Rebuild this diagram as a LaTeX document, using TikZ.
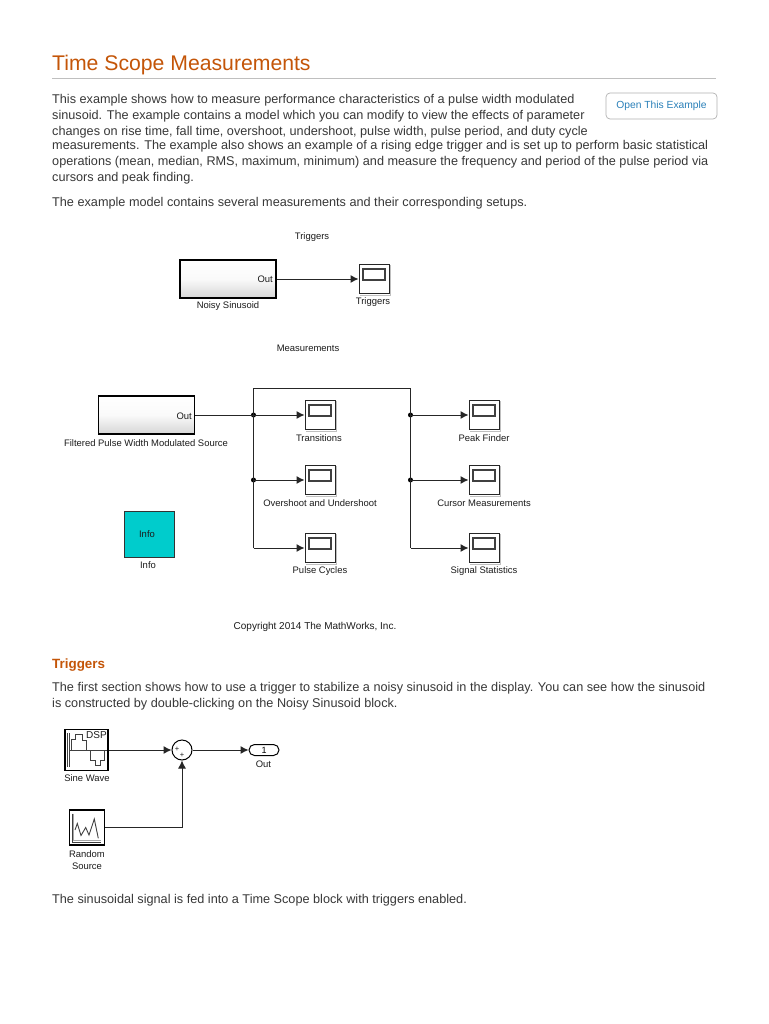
\documentclass[tikz,border=0pt]{standalone}
\usepackage{fontspec}
\setmainfont{Liberation Sans}
\usetikzlibrary{arrows.meta,calc,positioning,shapes.misc}
\definecolor{ttl}{HTML}{C45508}
\definecolor{body}{HTML}{383838}
\definecolor{lbl}{HTML}{1C1C1C}
\definecolor{btn}{HTML}{2A80B9}
\definecolor{infoc}{HTML}{00CCCC}
\tikzset{
  x=1pt,y=-1pt,
  para/.style={anchor=base west,inner sep=0pt,text=body,font=\fontsize{12.68}{14}\selectfont},
  lab/.style={inner sep=0pt,text=lbl,font=\fontsize{9.45}{11}\selectfont},
  gblock/.style={draw=black,line width=1.8pt,top color=white,bottom color=black!16,middle color=black!2,minimum width=96pt,minimum height=38pt,inner sep=0pt},
  scopebox/.style={draw=black!85,line width=1pt,fill=white,minimum width=30pt,minimum height=29pt,inner sep=0pt},
  wire/.style={draw=black!85,line width=1pt},
  arr/.style={wire,-{Latex[length=8pt,width=8pt]}},
  dotn/.style={circle,fill=black,inner sep=0pt,minimum size=5pt},
  icon/.style={draw=black!75,line width=0.9pt},
}
\newcommand{\scopeat}[3]{% name, x, y(center)
  \node[scopebox] (#1) at (#2,#3) {};
  \draw[black!25,line width=1pt] ($(#1.north east)+(1.2,1)$) -- ($(#1.south east)+(1.2,1.2)$) -- ($(#1.south west)+(1,1.2)$);
  \draw[black!75,line width=1.1pt,fill=white] ($(#1.center)+(-11,-10)$) rectangle ($(#1.center)+(11,1)$);
}
\begin{document}
\begin{tikzpicture}
\useasboundingbox (0,0) rectangle (768,1024);
\fill[white] (0,0) rectangle (768,1024);
% heading
\node[anchor=base west,inner sep=0pt,text=ttl,font=\fontsize{21.2}{24}\selectfont] (title) at (52,71) {Time Scope Measurements};
\coordinate (ruleL) at (52,78); \coordinate (ruleR) at (716,78);
\draw[black!25,line width=0.6pt] (ruleL) -- (ruleR);
% paragraph
\node[para] (p1) at (52,104) {This example shows how to measure performance characteristics of a pulse width modulated};
\node[para] (p2) at (52,120) {sinusoid. The example contains a model which you can modify to view the effects of parameter};
\node[para] (p3) at (52,136) {changes on rise time, fall time, overshoot, undershoot, pulse width, pulse period, and duty cycle};
\node[para] (p4) at (52,150) {measurements. The example also shows an example of a rising edge trigger and is set up to perform basic statistical};
\node[para] (p5) at (52,166) {operations (mean, median, RMS, maximum, minimum) and measure the frequency and period of the pulse period via};
\node[para] (p6) at (52,182) {cursors and peak finding.};
\node[para] (p7) at (52,207) {The example model contains several measurements and their corresponding setups.};
\node[draw=black!30,rounded corners=4pt,line width=0.7pt,minimum width=111pt,minimum height=26pt,inner sep=0pt,text=btn,font=\fontsize{10.3}{12}\selectfont] (button) at (661.5,106) {Open This Example};
% Triggers model
\node[lab] (tTrig) at (312,237.5) {Triggers};
\node[gblock] (noisy) at (228,279) {};
\node[lab,anchor=east] (noisyOut) at (273,279) {Out};
\node[lab] (noisyL) at (228,306.5) {Noisy Sinusoid};
\scopeat{sTrig}{374}{279}
\node[lab] (sTrigL) at (373,302) {Triggers};
\draw[arr] (noisy.east) -- (sTrig.west);
% Measurements model
\node[lab] (tMeas) at (308,348.5) {Measurements};
\node[gblock] (filt) at (146.5,415) {};
\node[lab,anchor=east] (filtOut) at (192,416) {Out};
\node[lab] (filtL) at (146,443.5) {Filtered Pulse Width Modulated Source};
\scopeat{s1}{320}{415}
\scopeat{s2}{320}{480}
\scopeat{s3}{320}{548}
\scopeat{s4}{484}{415}
\scopeat{s5}{484}{480}
\scopeat{s6}{484}{548}
\node[lab] (s1L) at (319,438.5) {Transitions};
\node[lab] (s2L) at (320,503) {Overshoot and Undershoot};
\node[lab] (s3L) at (320,571) {Pulse Cycles};
\node[lab] (s4L) at (484,438.5) {Peak Finder};
\node[lab] (s5L) at (484,503) {Cursor Measurements};
\node[lab] (s6L) at (484,571) {Signal Statistics};
\node[dotn] (j1) at (253.5,415) {};
\node[dotn] (j2) at (253.5,480) {};
\node[dotn] (j3) at (410.5,415) {};
\node[dotn] (j4) at (410.5,480) {};
\coordinate (c1) at (253.5,548);
\coordinate (c2) at (253.5,388);
\coordinate (c3) at (410.5,388);
\coordinate (c4) at (410.5,548);
\draw[arr] (filt.east) -- (s1.west);
\draw[arr] (j2.center) -- (s2.west);
\draw[arr] (c1) -- (s3.west);
\draw[arr] (j3.center) -- (s4.west);
\draw[arr] (j4.center) -- (s5.west);
\draw[arr] (c4) -- (s6.west);
\draw[wire] (c1) -- (c2) -- (c3) -- (c4);
\node[draw=black!80,line width=0.8pt,fill=infoc,minimum width=50pt,minimum height=46pt,inner sep=0pt] (info) at (149,534) {};
\node[lab] (infoT) at (147,534) {Info};
\node[lab] (infoL) at (148,565) {Info};
\node[lab,font=\fontsize{10}{12}\selectfont] (copy) at (315,627) {Copyright 2014 The MathWorks, Inc.};
% section
\node[anchor=base west,inner sep=0pt,text=ttl,font=\bfseries\fontsize{13.4}{15}\selectfont] (h2) at (52,668.5) {Triggers};
\node[para] (q1) at (52,691) {The first section shows how to use a trigger to stabilize a noisy sinusoid in the display. You can see how the sinusoid};
\node[para] (q2) at (52,707) {is constructed by double-clicking on the Noisy Sinusoid block.};
% second model
\node[draw=black,line width=1.2pt,fill=white,minimum width=43pt,minimum height=41pt,inner sep=0pt] (sine) at (86.5,750) {};
\draw[icon] ($(sine.center)+(-19,-17)$) -- ($(sine.center)+(-19,17)$);
\draw[icon] ($(sine.center)+(-17,-17)$) -- ($(sine.center)+(-17,17)$);
\draw[icon] ($(sine.center)+(-17,0)$) -- ($(sine.center)+(20,0)$);
\draw[icon] ($(sine.center)+(-14.8,0)$) -- ++(0,-10.7) -- ++(3.3,0) -- ++(0,-5.3) -- ++(7.7,0) -- ++(0,6) -- ++(4,0) -- ++(0,10);
\draw[icon] ($(sine.center)+(4.2,0)$) -- ++(0,10) -- ++(4.3,0) -- ++(0,5.7) -- ++(5,0) -- ++(0,-5) -- ++(4,0) -- ++(0,-10.7);
\node[inner sep=0pt,text=lbl,font=\fontsize{10}{12}\selectfont] (dsp) at (96.5,735.5) {DSP};
\node[lab] (sineL) at (87,778) {Sine Wave};
\node[draw=black,line width=1pt,circle,fill=white,minimum size=20pt,inner sep=0pt] (sum) at (182,750) {};
\node[inner sep=0pt,text=lbl,font=\fontsize{7.5}{8}\selectfont] (pl1) at (177,749.5) {+};
\node[inner sep=0pt,text=lbl,font=\fontsize{7.5}{8}\selectfont] (pl2) at (182,755) {+};
\node[draw=black,line width=1pt,rounded rectangle,fill=white,minimum width=30pt,minimum height=11pt,inner sep=0pt,text=black,font=\fontsize{9}{10}\selectfont] (out) at (264,750) {1};
\node[lab] (outL) at (263.5,764) {Out};
\node[draw=black,line width=1.2pt,fill=white,minimum width=35pt,minimum height=35pt,inner sep=0pt] (rnd) at (87,827.5) {};
\draw[icon] ($(rnd.center)+(-14.7,-14)$) -- ($(rnd.center)+(-14.7,14.8)$) -- ($(rnd.center)+(14,14.8)$);
\draw[black!35,line width=0.8pt] ($(rnd.center)+(-13.2,-14)$) -- ($(rnd.center)+(-13.2,13.3)$) -- ($(rnd.center)+(14,13.3)$);
\draw[icon] ($(rnd.center)+(-12,2.5)$) -- ($(rnd.center)+(-9.7,-4)$) -- ($(rnd.center)+(-6,8)$) -- ($(rnd.center)+(-1.3,0)$) -- ($(rnd.center)+(2,7.5)$) -- ($(rnd.center)+(7.3,-8.5)$) -- ($(rnd.center)+(11.3,10.8)$);
\node[lab] (rndL1) at (87,854) {Random};
\node[lab] (rndL2) at (87,866) {Source};
\draw[arr] (sine.east) -- (sum.west);
\draw[arr] (sum.east) -- (out.west);
\draw[arr] (rnd.east) -| (sum.south);
\node[para] (q3) at (52,903) {The sinusoidal signal is fed into a Time Scope block with triggers enabled.};
\end{tikzpicture}
\end{document}
